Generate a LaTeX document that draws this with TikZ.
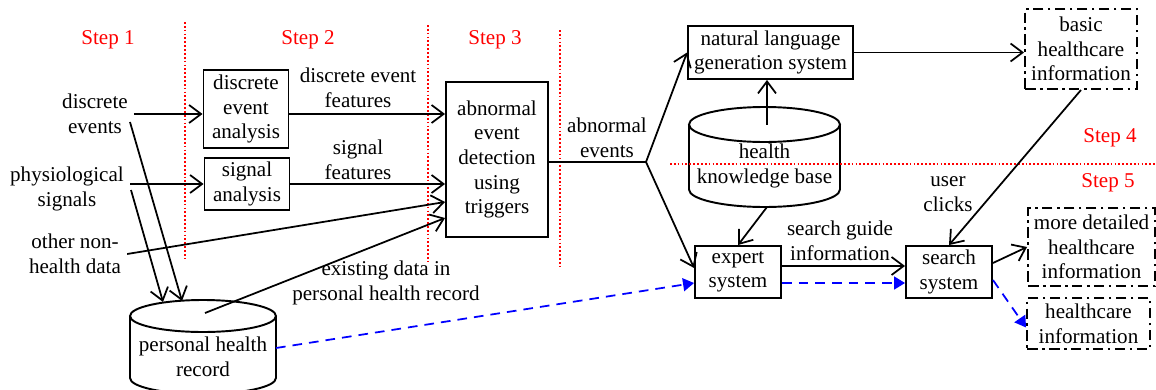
\documentclass[tikz,border=0pt]{standalone}
\usepackage{fontspec}
\setmainfont{Liberation Serif}
\usetikzlibrary{arrows.meta}

\begin{document}
\begin{tikzpicture}[x=0.02cm, y=-0.02cm,
  font=\fontsize{12}{14}\selectfont,
  every node/.style={align=center},
  box/.style={draw, line width=1.1pt, inner sep=1pt},
  infobox/.style={draw, line width=1.1pt, inner sep=1pt, dash pattern=on 6pt off 2.5pt on 1.5pt off 2.5pt},
  storeline/.style={line width=1.1pt},
  stepname/.style={text=red},
  stepline/.style={red, line width=1pt, dash pattern=on 1pt off 1.2pt},
  flow/.style={line width=1pt, -{Straight Barb[length=2.4mm, width=3.6mm]}},
  hint/.style={blue, line width=1pt, dash pattern=on 5.5pt off 4pt, -{Triangle[length=2.2mm, width=2.6mm]}}]
  \useasboundingbox (0,0) rectangle (1156,389);

  \node[stepname] (s1) at (108,40) {Step 1};
  \node[stepname] (s2) at (308,40) {Step 2};
  \node[stepname] (s3) at (495,40) {Step 3};
  \node[stepname] (s4) at (1110,138) {Step 4};
  \node[stepname] (s5) at (1108,183) {Step 5};

  \node (ev) at (95,114) {discrete\\events};
  \node (sig) at (67,189) {physiological\\signals};
  \node (oth) at (75,254) {other non-\\health data};

  \node[box, minimum width=1.7cm, minimum height=1.56cm] (dea) at (246,109) {discrete\\event\\analysis};
  \node[box, minimum width=1.7cm, minimum height=1.04cm] (sa) at (247,184) {signal\\analysis};
  \node[box, minimum width=2.04cm, minimum height=3.1cm] (det) at (497,159.5) {abnormal\\event\\detection\\using\\triggers};
  \node[box, minimum width=3.3cm, minimum height=1.06cm] (nlg) at (770.5,52.5) {natural language\\generation system};
  \node[box, minimum width=1.72cm, minimum height=1.04cm] (exp) at (738,272) {expert\\system};
  \node[box, minimum width=1.72cm, minimum height=1.04cm] (srch) at (949,272) {search\\system};
  \node[infobox, minimum width=2.24cm, minimum height=1.6cm] (basic) at (1081,49) {basic\\healthcare\\information};
  \node[infobox, minimum width=2.54cm, minimum height=1.56cm] (more) at (1091.5,247) {more detailed\\healthcare\\information};
  \node[infobox, minimum width=2.46cm, minimum height=1.02cm] (hc) at (1088.5,323.5) {healthcare\\information};

  \draw[storeline] (689,124.5) -- (689,189.5) arc[start angle=180, end angle=360, x radius=1.51cm, y radius=0.35cm] -- (840,124.5);
  \draw[storeline] (764.5,124.5) ellipse[x radius=1.51cm, y radius=0.35cm];
  \coordinate (hkbc) at (767,124.5);
  \coordinate (hkbb) at (767,207);
  \node (hkb) at (764.5,166) {health\\knowledge base};

  \draw[storeline] (130,316) -- (130,378) arc[start angle=180, end angle=360, x radius=1.46cm, y radius=0.32cm] -- (276,316);
  \draw[storeline] (203,316) ellipse[x radius=1.46cm, y radius=0.32cm];
  \coordinate (phrtop) at (203,300);
  \coordinate (phre) at (276,348);
  \node (phr) at (203,357) {personal health\\record};

  \node (def) at (358,88) {discrete event\\features};
  \node (sf) at (358,160) {signal\\features};
  \node (exd) at (386,283) {existing data in\\personal health record};
  \node (abe) at (607,138) {abnormal\\events};
  \node (uc) at (948,194) {user\\clicks};
  \node (sgi) at (840,241) {search guide\\information};

  \coordinate (junc) at (646,162);

  \draw[stepline] (185,22) -- (185,259);
  \draw[stepline] (428,25) -- (428,262);
  \draw[stepline] (560,30) -- (560,267);
  \draw[stepline] (670,164) -- (1156,164);

  \draw[flow] (ev.east) -- (ev.east -| dea.west);
  \draw[flow] (sig.east |- sa.west) -- (sa.west);
  \draw[flow] ([shift={(-4,8)}]ev.east) -- ([shift={(-21,1)}]phrtop);
  \draw[flow] ([shift={(1,1)}]sig.east) -- ([shift={(-40,2)}]phrtop);
  \draw[flow] ([shift={(0,5)}]dea.east) -- ([shift={(0,5)}]dea.east -| det.west);
  \draw[flow] (sa.east) -- (sa.east -| det.west);
  \draw[flow] (oth.east) -- ([shift={(0,42.5)}]det.west);
  \draw[flow] ([shift={(2,13)}]phrtop) -- ([shift={(0,58.5)}]det.west);
  \draw[line width=1pt] (det.east |- junc) -- (junc);
  \draw[flow] (junc) -- (nlg.west);
  \draw[flow] (junc) -- ([shift={(0,-4)}]exp.west);
  \draw[flow] (hkbc) -- (hkbc |- nlg.south);
  \draw[flow] (hkbb) -- (exp.north);
  \draw[flow] (nlg.east) -- (nlg.east -| basic.west);
  \draw[flow] (basic.south) -- (srch.north);
  \draw[flow] ([shift={(0,-6)}]exp.east) -- ([shift={(0,-6)}]srch.west);
  \draw[hint] ([shift={(0,11)}]exp.east) -- ([shift={(0,11)}]srch.west);
  \draw[hint] (phre) -- ([shift={(0,11)}]exp.west);
  \draw[flow] ([shift={(0,-9)}]srch.east) -- (more.west);
  \draw[hint] ([shift={(0,8)}]srch.east) -- ([shift={(0,4)}]hc.west);
\end{tikzpicture}
\end{document}
